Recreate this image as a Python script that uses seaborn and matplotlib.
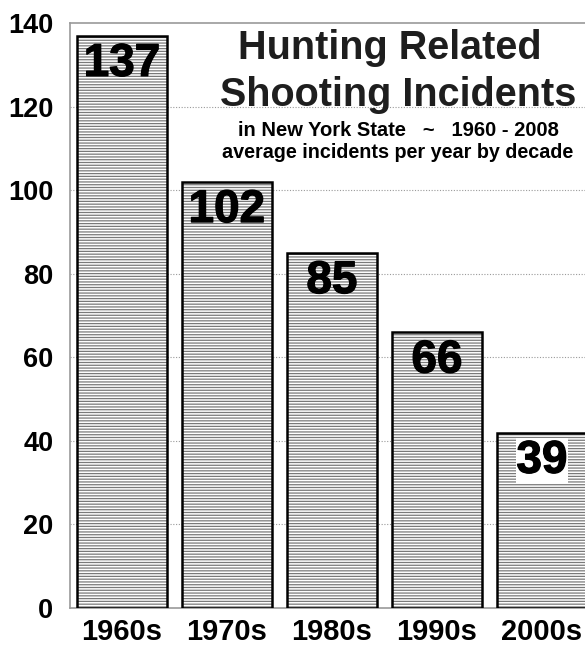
import matplotlib
matplotlib.use("Agg")
import matplotlib.pyplot as plt
import matplotlib.patheffects as pe
import seaborn as sns
import pandas as pd

decades = ["1960s", "1970s", "1980s", "1990s", "2000s"]
bar_heights = [137, 102, 85, 66, 42]
bar_labels = ["137", "102", "85", "66", "39"]
y_ticks = [0, 20, 40, 60, 80, 100, 120, 140]

sns.set_theme(style="white")
plt.rcParams["font.family"] = ["Liberation Sans", "DejaVu Sans"]
plt.rcParams["hatch.linewidth"] = 0.9
plt.rcParams["hatch.color"] = "#7a7a7a"

df = pd.DataFrame({"decade": decades, "value": bar_heights})

fig = plt.figure(figsize=(5.85, 6.47), dpi=100)
ax = fig.add_axes([70 / 585, 39 / 647, 1 - 70 / 585, (608 - 23) / 647])

# hatched fill
sns.barplot(data=df, x="decade", y="value", ax=ax, width=0.857,
            color="white", saturation=1, zorder=2)
for p in ax.patches:
    p.set_facecolor("white")
    p.set_hatch("------")
    p.set_edgecolor("#7a7a7a")
    p.set_linewidth(0)
n_fill = len(ax.patches)
# black outlines
sns.barplot(data=df, x="decade", y="value", ax=ax, width=0.857,
            color="white", saturation=1, zorder=3)
for p in ax.patches[n_fill:]:
    p.set_facecolor("none")
    p.set_edgecolor("black")
    p.set_linewidth(1.8)

ax.set_ylim(0, 140)
ax.set_xlim(-0.495, 4.41)
ax.set_yticks(y_ticks)
ax.set_xlabel("")
ax.set_ylabel("")

for y in y_ticks[1:-1]:
    ax.axhline(y, color="#9a9a9a", linestyle=(0, (1, 1.5)), linewidth=0.8, zorder=1)

for side in ["top", "left", "bottom"]:
    ax.spines[side].set_color("#9a9a9a")
    ax.spines[side].set_linewidth(1.2)
ax.spines["right"].set_visible(False)

ax.tick_params(axis="y", length=0, pad=12, labelsize=19.5)
ax.tick_params(axis="x", length=0, pad=7, labelsize=21)
for lbl in ax.get_yticklabels() + ax.get_xticklabels():
    lbl.set_fontweight("bold")
    lbl.set_color("black")

heavy = [pe.withStroke(linewidth=0.9, foreground="black")]
for i, (h, t) in enumerate(zip(bar_heights, bar_labels)):
    kw = {}
    if i == len(bar_heights) - 1:
        kw["bbox"] = dict(facecolor="white", edgecolor="none", pad=0.5)
    ax.text(i, h - 1.5, t, ha="center", va="top", fontsize=33,
            fontweight="bold", color="black", zorder=5,
            path_effects=heavy, **kw)

ax.text(2.55, 138.6, "Hunting Related", ha="center", va="top", fontsize=28.5,
        fontweight="bold", color="#1e1e1e", zorder=6)
ax.text(2.63, 127.4, "Shooting Incidents", ha="center", va="top", fontsize=28.5,
        fontweight="bold", color="#1e1e1e", zorder=6)
ax.text(2.63, 116.6, "in New York State   ~   1960 - 2008", ha="center", va="top",
        fontsize=14.5, fontweight="bold", color="black", zorder=6)
ax.text(2.63, 111.2, "average incidents per year by decade", ha="center", va="top",
        fontsize=14.2, fontweight="bold", color="black", zorder=6)

fig.savefig("out.png", dpi=100)
